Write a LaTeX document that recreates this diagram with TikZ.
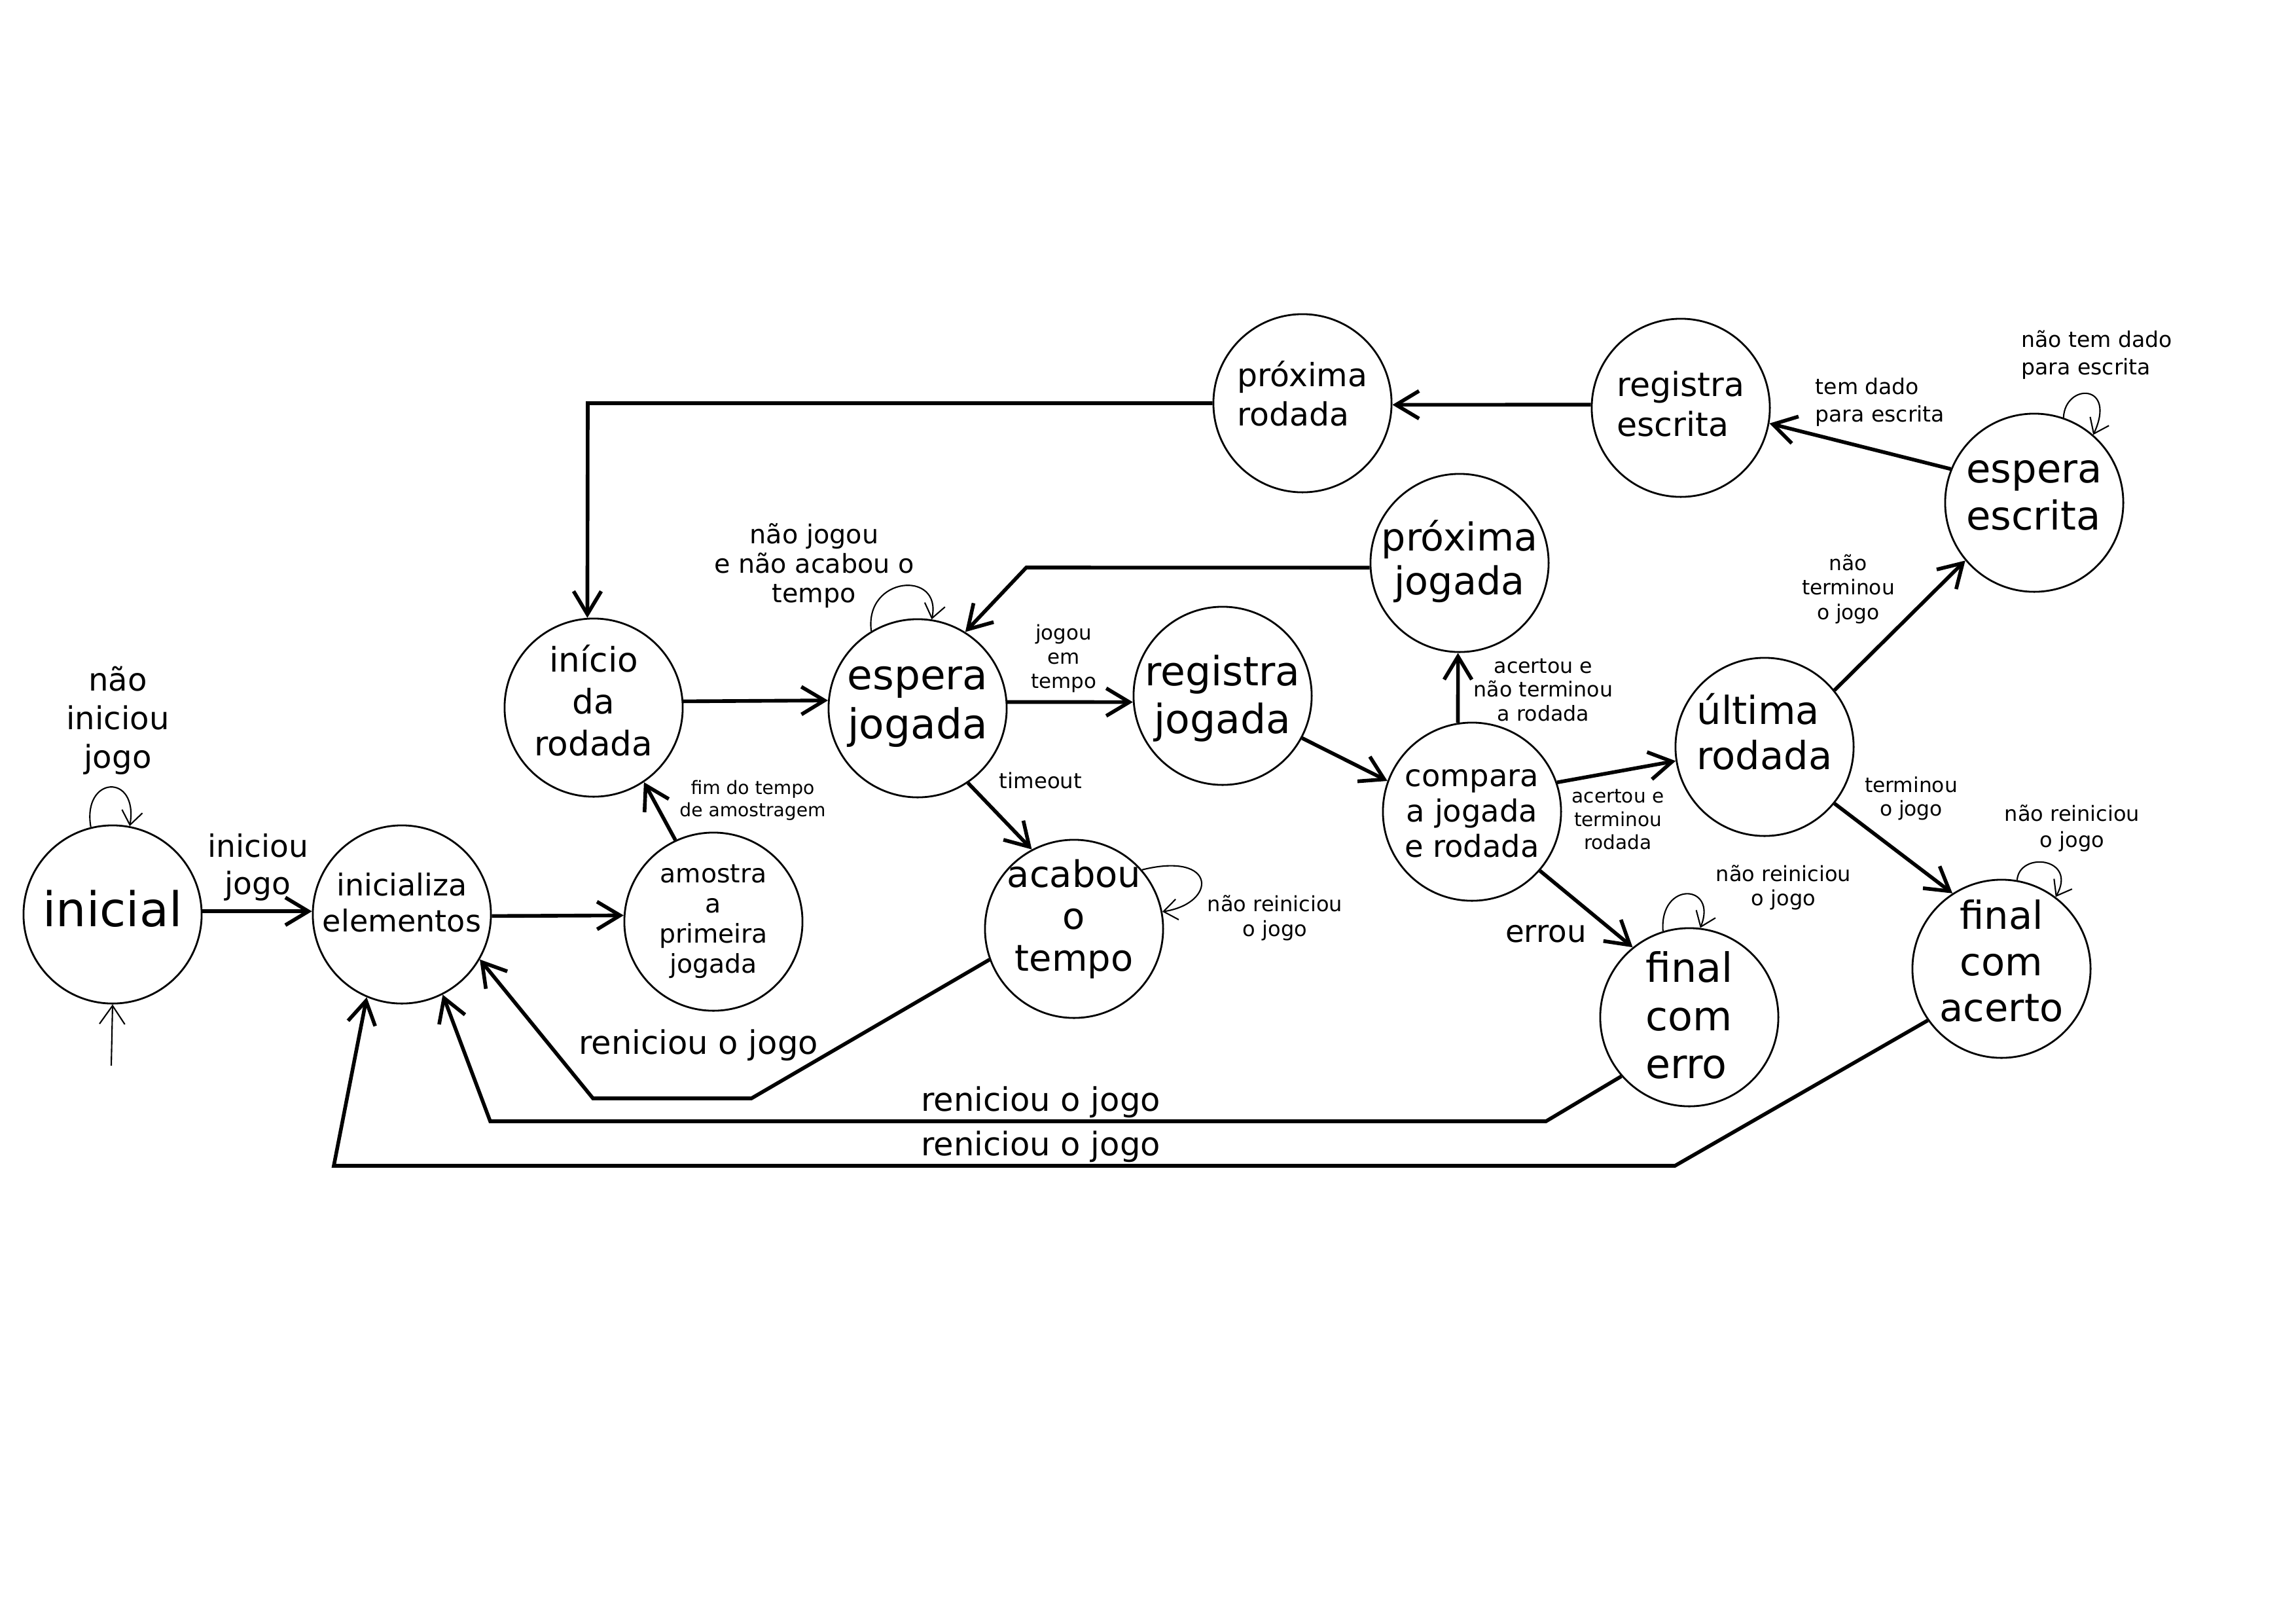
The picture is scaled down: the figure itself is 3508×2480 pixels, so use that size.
\documentclass[tikz,border=0pt]{standalone}
\usepackage{fontspec}
\setmainfont{DejaVu Sans}
\usetikzlibrary{arrows.meta}
\newcommand\myfs[2]{\fontsize{#1}{#2}\selectfont}
\tikzset{
  state/.style={circle, draw, line width=0.8pt, minimum size=2.72cm, inner sep=0pt},
  stxt/.style={inner sep=0pt, align=center},
  conn/.style={line width=1.6pt, -{Straight Barb[length=10pt,width=12pt]}},
  loopst/.style={line width=0.6pt, -{Straight Barb[length=6pt,width=9pt]}},
  lbl/.style={inner sep=0pt, align=center}
}
\begin{document}
\begin{tikzpicture}[x=0.01cm,y=-0.01cm]
\useasboundingbox (0,0) rectangle (3508,2480);
% states (text set as a centred label so that it can be nudged vertically)
\node[state, label={[stxt, name=At, font=\myfs{20.8}{25}, yshift=0.09cm]center:{inicial}}] (A) at (172,1397) {};
\node[state, label={[stxt, name=Bt, font=\myfs{13.1}{15.6}, yshift=0.18cm]center:{inicializa\\elementos}}] (B) at (614,1397) {};
\node[state, label={[stxt, name=Ct, font=\myfs{11.2}{13.1}]center:{amostra\\a\\primeira\\jogada}}] (C) at (1090,1408) {};
\node[state, label={[stxt, name=Dt, font=\myfs{14.7}{18.2}, yshift=0.11cm]center:{início\\da\\rodada}}] (D) at (907,1081) {};
\node[state, label={[stxt, name=Et, font=\myfs{17.9}{21.3}, yshift=0.02cm]center:{espera\\jogada}}] (E) at (1402,1082) {};
\node[state, label={[stxt, name=Ft, font=\myfs{17.5}{20.8}, yshift=-0.04cm]center:{registra\\jogada}}] (F) at (1868,1063) {};
\node[state, label={[stxt, name=Gt, font=\myfs{15.9}{18.2}, yshift=0.15cm]center:{acabou\\o\\tempo}}] (G) at (1641,1419) {};
\node[state, label={[stxt, name=Ht, font=\myfs{16.7}{19}, yshift=0.02cm]center:{próxima\\jogada}}] (H) at (2230,860) {};
\node[state, label={[stxt, name=It, font=\myfs{13.2}{15.4}, yshift=-0.03cm]center:{compara\\a jogada\\e rodada}}] (I) at (2249,1240) {};
\node[state, label={[stxt, name=Jt, align=left, font=\myfs{16.8}{19.6}, yshift=0.23cm]center:{última\\rodada}}] (J) at (2696,1141) {};
\node[state, label={[stxt, name=Kt, align=left, font=\myfs{17.6}{21}, yshift=0.03cm]center:{final\\com\\erro}}] (K) at (2581,1554) {};
\node[state, label={[stxt, name=Lt, font=\myfs{16.8}{20}, yshift=0.12cm]center:{final\\com\\acerto}}] (L) at (3058,1480) {};
\node[state, label={[stxt, name=Mt, align=left, font=\myfs{17.3}{20.3}, yshift=0.11cm]center:{espera\\escrita}}] (M) at (3108,768) {};
\node[state, label={[stxt, name=Nt, align=left, font=\myfs{14.4}{17.3}, yshift=0.06cm]center:{registra\\escrita}}] (N) at (2568,623) {};
\node[state, label={[stxt, name=Ot, align=left, font=\myfs{13.9}{17}, yshift=0.15cm]center:{próxima\\rodada}}] (O) at (1990,616) {};
% connectors
\draw[conn] (A.2) -- (B.178);
\draw[conn] (B.-1) -- (C.176);
\draw[conn] (C.115) -- (D.-56);
\draw[conn] (D.4) -- (E.175);
\draw[conn] (E.4) -- (F.184);
\draw[conn] (E.-56) -- (G.118);
\draw[conn] (F.-28) -- (I.160);
\draw[conn] (I.99) -- (H.-91);
\coordinate (h1) at (1568,867);
\draw[conn] (H.183) -- (h1) -- (E.58);
\draw[conn] (I.19) -- (J.189);
\draw[conn] (I.-41) -- (K.129);
\draw[conn] (J.39) -- (M.220);
\draw[conn] (J.-39) -- (L.123);
\draw[conn] (M.158) -- (N.-10);
\draw[conn] (N.178) -- (O.-1);
\coordinate (o1) at (898,616);
\draw[conn] (O.180) -- (o1) -- (D.94);
\coordinate (g1) at (1148,1678);
\coordinate (g2) at (906,1678);
\draw[conn] (G.200) -- (g1) -- (g2) -- (B.-30);
\coordinate (k1) at (2362,1713);
\coordinate (k2) at (749,1713);
\draw[conn] (K.221) -- (k1) -- (k2) -- (B.-63);
\coordinate (l1) at (2559,1781);
\coordinate (l2) at (510,1781);
\draw[conn] (L.215) -- (l1) -- (l2) -- (B.247);
% self loops
\draw[loopst] (A.104) .. controls (125,1185) and (212,1180) .. (A.79);
\draw[loopst] (E.121) .. controls (1320,880) and (1440,870) .. (E.81);
\draw[loopst] (G.41) .. controls (1860,1300) and (1860,1380) .. (G.11);
\draw[loopst] (K.107) .. controls (2535,1345) and (2625,1350) .. (K.83);
\draw[loopst] (L.80) .. controls (3085,1300) and (3175,1310) .. (L.53);
\draw[loopst] (M.71) .. controls (3155,585) and (3235,585) .. (M.49);
\coordinate (a0) at (170,1628);
\draw[line width=0.6pt, -{Straight Barb[length=8pt,width=11pt]}] (a0) -- (A.270);
% labels
\node[lbl, font=\myfs{13.7}{16.8}] (t1) at (180,1101) {não\\iniciou\\jogo};
\node[lbl, font=\myfs{13.4}{16}] (t2) at (394,1325) {iniciou\\jogo};
\node[lbl, font=\myfs{8}{9.7}] (t3) at (1150,1223) {fim do tempo\\de amostragem};
\node[lbl, font=\myfs{11.3}{12.8}] (t4) at (1244,864) {não jogou\\e não acabou o\\tempo};
\node[lbl, font=\myfs{8.8}{10.4}] (t5) at (1625,1006) {jogou\\em\\tempo};
\node[lbl, font=\myfs{9.2}{11}, anchor=base] (t6) at (1590,1204) {timeout};
\node[lbl, font=\myfs{9.1}{10.8}] (t7) at (1948,1402) {não reiniciou\\o jogo};
\node[lbl, font=\myfs{9}{10.4}] (t8) at (2358,1054) {acertou e\\não terminou\\a rodada};
\node[lbl, font=\myfs{8.4}{10.1}] (t9) at (2472,1252) {acertou e\\terminou\\rodada};
\node[lbl, font=\myfs{13.3}{16}, anchor=base] (t10) at (2362,1439) {errou};
\node[lbl, font=\myfs{9.1}{10.5}] (t11) at (2725,1356) {não reiniciou\\o jogo};
\node[lbl, font=\myfs{8.9}{10.7}] (t12) at (2824,900) {não\\terminou\\o jogo};
\node[lbl, font=\myfs{8.9}{10.2}] (t13) at (2920,1220) {terminou\\o jogo};
\node[lbl, font=\myfs{9.1}{11.4}] (t14) at (3166,1265) {não reiniciou\\o jogo};
\node[lbl, font=\myfs{9.4}{12}, anchor=west, align=left] (t15) at (2773,614) {tem dado\\para escrita};
\node[lbl, font=\myfs{9.4}{12}, anchor=west, align=left] (t16) at (3088,542) {não tem dado\\para escrita};
\node[lbl, font=\myfs{14.1}{17}, anchor=base] (t17) at (1067,1610) {reniciou o jogo};
\node[lbl, font=\myfs{14.1}{17}, anchor=base] (t18) at (1590,1697) {reniciou o jogo};
\node[lbl, font=\myfs{14.1}{17}, anchor=base] (t19) at (1590,1765) {reniciou o jogo};
\end{tikzpicture}
\end{document}
